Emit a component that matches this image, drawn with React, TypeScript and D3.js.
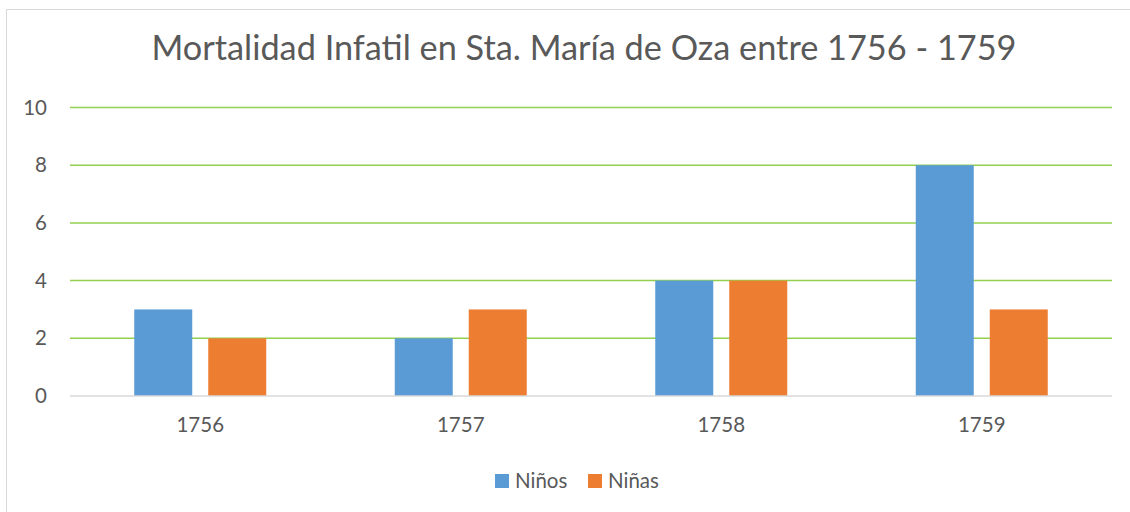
import React from "react";
import * as d3 from "d3";

const YEARS = ["1756", "1757", "1758", "1759"];
const NINOS = [3, 2, 4, 8];
const NINAS = [2, 3, 4, 3];
const SERIES = ["Niños", "Niñas"];
const COLORS = ["#5B9BD5", "#ED7D31"];
const Y_TICKS = [0, 2, 4, 6, 8, 10];

const W = 1130;
const H = 512;
const FONT = "Lato, 'Open Sans', sans-serif";
const TEXT = "#595959";

const App = () => {
  const left = 70;
  const right = 1112;
  const top = 107.5;
  const bottom = 396;

  const x = d3.scaleBand().domain(YEARS).range([left, right]);
  const y = d3.scaleLinear().domain([0, 10]).range([bottom, top]);

  const barW = 58;
  const gap = 16;
  const values = [NINOS, NINAS];

  return (
    <svg
      width={W}
      height={H}
      style={{ position: "fixed", left: 0, top: 0, background: "#fff" }}
    >
      <rect x={6.5} y={9.5} width={W} height={H} fill="#fff" stroke="#d9d9d9" strokeWidth={1} />
      <text
        x={584}
        y={60}
        textAnchor="middle"
        fontFamily={FONT}
        fontSize={34.3}
        fill={TEXT}
      >
        Mortalidad Infatil en Sta. María de Oza entre 1756 - 1759
      </text>

      {Y_TICKS.map((t) => (
        <g key={t}>
          {t > 0 && (
            <line x1={left} x2={right} y1={y(t)} y2={y(t)} stroke="#92D050" strokeWidth={1.5} />
          )}
          <text
            x={47}
            y={y(t)}
            dy="0.35em"
            textAnchor="end"
            fontFamily={FONT}
            fontSize={20.5}
            fill={TEXT}
          >
            {t}
          </text>
        </g>
      ))}

      {YEARS.map((yr, i) => {
        const cx = (x(yr) as number) + x.bandwidth() / 2;
        const start = cx - (barW * 2 + gap) / 2;
        return (
          <g key={yr}>
            {SERIES.map((s, j) => (
              <rect
                key={s}
                x={start + j * (barW + gap)}
                y={y(values[j][i])}
                width={barW}
                height={bottom - y(values[j][i])}
                fill={COLORS[j]}
              />
            ))}
            <text
              x={cx}
              y={425}
              dy="0.35em"
              textAnchor="middle"
              fontFamily={FONT}
              fontSize={20.5}
              fill={TEXT}
            >
              {yr}
            </text>
          </g>
        );
      })}

      <line x1={left} x2={right} y1={bottom} y2={bottom} stroke="#d9d9d9" strokeWidth={1.5} />

      {SERIES.map((s, j) => {
        const lx = [495, 588][j];
        return (
          <g key={s}>
            <rect x={lx} y={474} width={14} height={14} fill={COLORS[j]} />
            <text
              x={lx + 20}
              y={481}
              dy="0.35em"
              fontFamily={FONT}
              fontSize={20.5}
              fill={TEXT}
            >
              {s}
            </text>
          </g>
        );
      })}
    </svg>
  );
};

export default App;
